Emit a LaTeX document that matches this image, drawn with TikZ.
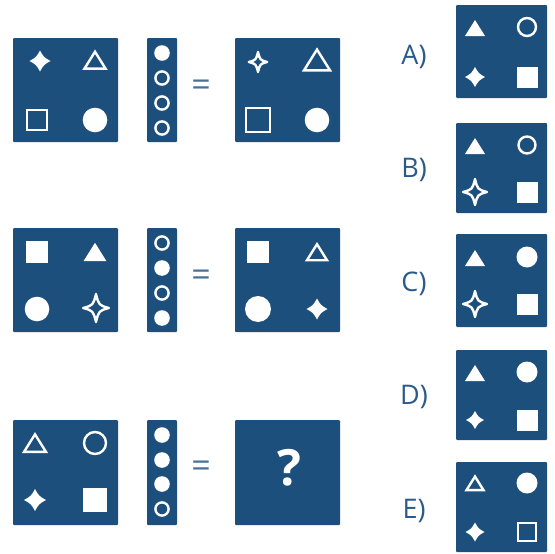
\documentclass[tikz,border=0pt]{standalone}
\usepackage{fontspec}
\setmainfont{Open Sans}
\definecolor{panel}{HTML}{1D4F7C}
\definecolor{labc}{HTML}{2A5A8A}
\definecolor{eqc}{HTML}{4A7299}
\tikzset{
  panel/.style={fill=panel, draw=none, rounded corners=1pt},
  wl/.style={draw=white, line width=2.4pt, line join=miter},
  optlab/.style={text=labc, font=\fontsize{27}{27}\selectfont, inner sep=0pt},
  eqsign/.style={text=eqc, font=\fontsize{34}{34}\selectfont, inner sep=0pt},
  pics/fstar/.style={code={\fill[white] (#1,0) .. controls (0.36*#1,0.36*#1) .. (0,#1) .. controls (-0.36*#1,0.36*#1) .. (-#1,0) .. controls (-0.36*#1,-0.36*#1) .. (0,-#1) .. controls (0.36*#1,-0.36*#1) .. cycle;}},
  pics/ostar/.style={code={\draw[white, line width=2.4pt, line join=round] (0.92*#1,0) .. controls (0.2*#1,0.2*#1) .. (0,#1) .. controls (-0.2*#1,0.2*#1) .. (-0.92*#1,0) .. controls (-0.2*#1,-0.2*#1) .. (0,-#1) .. controls (0.2*#1,-0.2*#1) .. cycle;}},
  pics/ftri/.style={code={\fill[white] (-0.5*#1,0.4*#1) -- (0.5*#1,0.4*#1) -- (0,-0.4*#1) -- cycle;}},
  pics/otri/.style={code={\draw[wl] (-0.5*#1,0.36*#1) -- (0.5*#1,0.36*#1) -- (0,-0.44*#1) -- cycle;}},
  pics/fsq/.style={code={\fill[white] (-0.5*#1,-0.5*#1) rectangle (0.5*#1,0.5*#1);}},
  pics/osq/.style={code={\draw[wl] (-0.5*#1,-0.5*#1) rectangle (0.5*#1,0.5*#1);}},
  pics/fcirc/.style={code={\fill[white] (0,0) circle[radius=#1];}},
  pics/ocirc/.style={code={\draw[wl] (0,0) circle[radius=#1];}},
}
\begin{document}
\begin{tikzpicture}[x=1pt,y=-1pt]
\useasboundingbox (0,0) rectangle (555,554);
% ---------- row 1 ----------
\fill[panel] (13,38) rectangle (118,142);
\fill[panel] (147,38) rectangle (177,142);
\fill[panel] (235,38) rectangle (340,142);
\pic at (40,61) {fstar=10.5};
\pic at (95,61) {otri=21};
\pic at (37,120) {osq=20};
\pic at (95,120) {fcirc=12.3};
\pic at (162,53) {fcirc=7.8};
\pic at (162,78) {ocirc=6.6};
\pic at (162,103) {ocirc=6.6};
\pic at (162,128) {ocirc=6.6};
\node[eqsign] (eq1) at (201,88) {=};
\pic at (258,62) {ostar=10};
\pic at (317,61) {otri=26};
\pic at (258,120) {osq=24};
\pic at (317,120) {fcirc=12.3};
% ---------- row 2 ----------
\fill[panel] (13,228) rectangle (118,332);
\fill[panel] (147,228) rectangle (177,332);
\fill[panel] (235,228) rectangle (340,332);
\pic at (37,252) {fsq=22};
\pic at (95,252) {ftri=23};
\pic at (37,309) {fcirc=12.3};
\pic at (96,308) {ostar=14};
\pic at (162,243) {ocirc=6.6};
\pic at (162,268) {fcirc=7.8};
\pic at (162,293) {ocirc=6.6};
\pic at (162,318) {fcirc=7.8};
\node[eqsign] (eq2) at (201,278) {=};
\pic at (258,252) {fsq=22};
\pic at (317,253) {otri=20};
\pic at (258,309) {fcirc=13};
\pic at (317,309) {fstar=10.5};
% ---------- row 3 ----------
\fill[panel] (13,420) rectangle (118,525);
\fill[panel] (147,420) rectangle (177,525);
\fill[panel] (235,420) rectangle (340,525);
\pic at (35,444) {otri=22};
\pic at (95,443) {ocirc=11};
\pic at (35,500) {fstar=11};
\pic at (95,500) {fsq=24};
\pic at (162,435) {fcirc=7.8};
\pic at (162,460) {fcirc=7.8};
\pic at (162,484) {fcirc=7.8};
\pic at (162,509) {ocirc=6.6};
\node[eqsign] (eq3) at (201,469) {=};
\node[text=white, font=\fontsize{50}{50}\selectfont\bfseries, inner sep=0pt] (q) at (289,468) {?};
% ---------- options ----------
\fill[panel] (456,5) rectangle (547,98);
\fill[panel] (456,123) rectangle (547,213);
\fill[panel] (456,234) rectangle (547,327);
\fill[panel] (456,350) rectangle (547,440);
\fill[panel] (456,462) rectangle (547,552);
\node[optlab] (la) at (414,57) {A)};
\node[optlab] (lb) at (414,170) {B)};
\node[optlab] (lc) at (414,284) {C)};
\node[optlab] (ld) at (414,397) {D)};
\node[optlab] (le) at (414,511) {E)};
% A
\pic at (475,28) {ftri=20};
\pic at (527,27) {ocirc=9};
\pic at (475,77) {fstar=10};
\pic at (527,77) {fsq=21};
% B
\pic at (475,146) {ftri=20};
\pic at (527,145) {ocirc=8.5};
\pic at (475,192) {ostar=13};
\pic at (527,192) {fsq=21};
% C
\pic at (475,258) {ftri=20};
\pic at (527,257) {fcirc=10.5};
\pic at (475,304) {ostar=13};
\pic at (527,304) {fsq=21};
% D
\pic at (475,373) {ftri=20};
\pic at (527,372) {fcirc=10.5};
\pic at (475,420) {fstar=9};
\pic at (527,420) {fsq=21};
% E
\pic at (475,484) {otri=17};
\pic at (527,483) {fcirc=10.5};
\pic at (475,532) {fstar=9.5};
\pic at (527,532) {osq=18};
\end{tikzpicture}
\end{document}
